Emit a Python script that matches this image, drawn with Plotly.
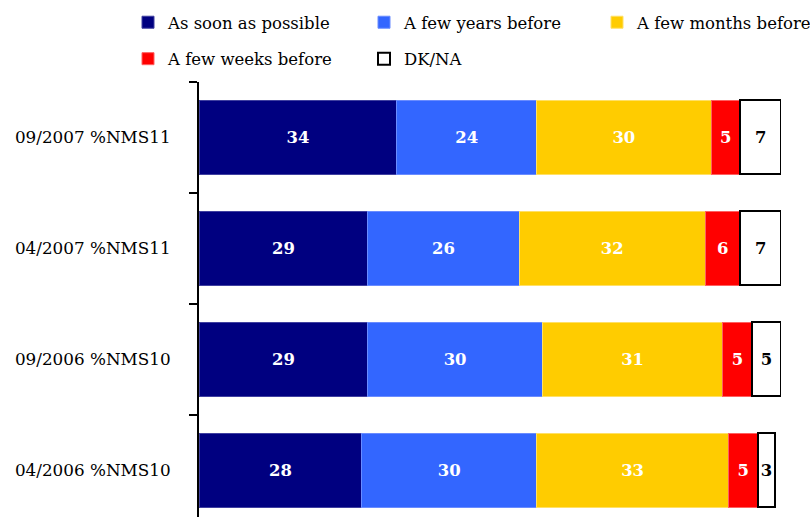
import plotly.graph_objects as go

# Survey waves, listed top to bottom
categories = ["09/2007 %NMS11", "04/2007 %NMS11", "09/2006 %NMS10", "04/2006 %NMS10"]

series_names = ["As soon as possible", "A few years before", "A few months before",
                "A few weeks before", "DK/NA"]
as_soon = [34, 29, 29, 28]
few_years = [24, 26, 30, 30]
few_months = [30, 32, 31, 33]
few_weeks = [5, 6, 5, 5]
dk_na = [7, 7, 5, 3]
values = [as_soon, few_years, few_months, few_weeks, dk_na]

colors = ["#000080", "#3366FF", "#FFCC00", "#FF0000", "#FFFFFF"]
line_colors = ["#4040A0", "#6A8CFF", "#FFE066", "#FF6060", "#000000"]
line_widths = [1, 1, 1, 1, 2]
text_colors = ["white", "white", "white", "white", "black"]
# legend laid out as three columns
legend_ids = ["legend", "legend2", "legend3", "legend", "legend2"]

SERIF = "DejaVu Serif"

fig = go.Figure()
for i, (name, vals, c, lc, lw, tc, lg) in enumerate(zip(series_names, values, colors, line_colors,
                                                       line_widths, text_colors, legend_ids)):
    fig.add_trace(go.Bar(
        y=categories, x=vals, name=name, orientation="h",
        marker=dict(color=c, line=dict(color=lc, width=lw)),
        text=[str(v) for v in vals], textposition="inside",
        insidetextanchor="middle",
        textfont=dict(family=SERIF, size=16.5, color=tc, weight="bold"),
        legend=lg, legendgroup=f"g{i}",
    ))

W, H = 810, 517
ML, MR, MT, MB = 199, 29, 82, 0
PW = W - ML - MR
PH = H - MT - MB


def px_x(px):
    return (px - ML) / PW


def px_y(py):
    return (H - MB - py) / PH


legend_common = dict(
    orientation="v", xanchor="left", yanchor="top",
    font=dict(family=SERIF, size=16.5, color="black"),
    itemwidth=30, bgcolor="rgba(0,0,0,0)", traceorder="grouped",
    tracegroupgap=12,
)

fig.update_layout(
    width=W, height=H,
    margin=dict(l=ML, r=MR, t=MT, b=MB, autoexpand=False),
    barmode="stack", bargap=0.333,
    plot_bgcolor="white", paper_bgcolor="white",
    showlegend=True,
    legend=dict(x=px_x(128), y=px_y(5), **legend_common),
    legend2=dict(x=px_x(364), y=px_y(5), **legend_common),
    legend3=dict(x=px_x(597), y=px_y(5), **legend_common),
    xaxis=dict(range=[0, 100], visible=False, fixedrange=True),
    yaxis=dict(
        categoryorder="array", categoryarray=categories,
        range=[3.4234, -0.5],
        showline=True, linecolor="black", linewidth=2,
        ticks="outside", tickson="boundaries", ticklen=8, tickwidth=2,
        tickcolor="black", ticklabelstandoff=23,
        tickfont=dict(family=SERIF, size=16.8, color="black"),
        showgrid=False, zeroline=False,
    ),
    uniformtext=dict(minsize=10, mode="show"),
)

fig.write_html("out.html")
